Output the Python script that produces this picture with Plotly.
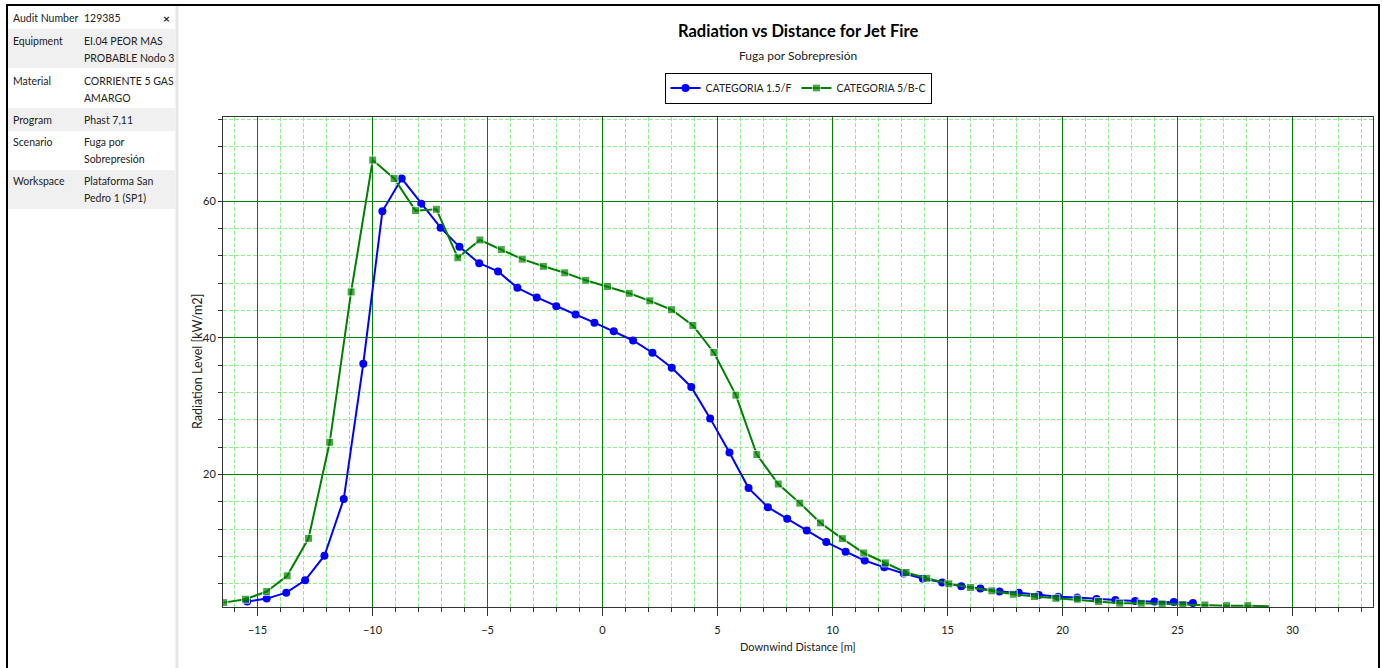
import plotly.graph_objects as go

# ---------------- data ----------------
cat_f_x = [-15.45, -14.6, -13.75, -12.93, -12.09, -11.25, -10.4, -9.57, -8.73, -7.88,
           -7.04, -6.22, -5.36, -4.54, -3.7, -2.86, -2.01, -1.17, -0.35, 0.49,
           1.33, 2.17, 3.01, 3.86, 4.68, 5.52, 6.35, 7.19, 8.03, 8.88,
           9.73, 10.57, 11.4, 12.25, 13.1, 13.93, 14.77, 15.6, 16.43, 17.26,
           18.1, 18.97, 19.81, 20.64, 21.48, 22.3, 23.16, 24.0, 24.84, 25.67]
cat_f_y = [1.39, 1.83, 2.7, 4.5, 8.1, 16.4, 36.2, 58.5, 63.3, 59.6,
           56.1, 53.3, 50.9, 49.7, 47.3, 45.9, 44.6, 43.4, 42.2, 40.96,
           39.6, 37.8, 35.6, 32.8, 28.2, 23.2, 18.0, 15.2, 13.5, 11.8,
           10.1, 8.7, 7.4, 6.4, 5.5, 4.75, 4.2, 3.65, 3.3, 2.86,
           2.67, 2.37, 2.1, 1.98, 1.78, 1.64, 1.49, 1.39, 1.34, 1.2]

cat_bc_x = [-16.47, -15.52, -14.6, -13.71, -12.78, -11.86, -10.93, -9.99, -9.06, -8.13,
            -7.22, -6.29, -5.33, -4.4, -3.49, -2.57, -1.64, -0.73, 0.22, 1.16,
            2.06, 3.0, 3.93, 4.84, 5.8, 6.71, 7.64, 8.58, 9.48, 10.43,
            11.36, 12.3, 13.2, 14.1, 15.06, 16.0, 16.93, 17.86, 18.78, 19.71,
            20.64, 21.57, 22.49, 23.42, 24.33, 25.23, 26.19, 27.13, 28.06, 28.97]
cat_bc_y = [1.24, 1.74, 2.86, 5.16, 10.65, 24.7, 46.7, 66.0, 63.3, 58.6,
            58.8, 51.7, 54.3, 52.9, 51.5, 50.45, 49.5, 48.4, 47.5, 46.5,
            45.4, 44.1, 41.8, 37.85, 31.6, 22.9, 18.6, 15.8, 12.9, 10.6,
            8.5, 7.05, 5.65, 4.8, 3.99, 3.45, 2.96, 2.47, 2.13, 1.88,
            1.74, 1.39, 1.15, 1.15, 1.05, 0.95, 0.9, 0.8, 0.8, 0.72]

series_names = ["CATEGORIA 1.5/F", "CATEGORIA 5/B-C"]

info_labels = ["Audit Number", "Equipment", "Material", "Program", "Scenario", "Workspace"]
info_values = [["129385"], ["EI.04 PEOR MAS", "PROBABLE Nodo 3"], ["CORRIENTE 5 GAS", "AMARGO"],
               ["Phast 7,11"], ["Fuga por", "Sobrepresión"], ["Plataforma San", "Pedro 1 (SP1)"]]

title_text = "Radiation vs Distance for Jet Fire"
subtitle_text = "Fuga por Sobrepresión"
x_title = "Downwind Distance [m]"
y_title = "Radiation Level [kW/m2]"

# ---------------- layout geometry ----------------
W, H = 1382, 668
PL, PR, PT, PB = 223, 1373, 117, 607
FONT = "Lato, Roboto, sans-serif"


def px(x):
    return (x - PL) / (PR - PL)


def py(y):
    return (PB - y) / (PB - PT)


fig = go.Figure()
fig.add_trace(go.Scatter(x=cat_f_x, y=cat_f_y, mode="lines+markers", name=series_names[0],
                         line=dict(color="#0000FF", width=2),
                         marker=dict(symbol="circle", size=8, color="#0000FF")))
marker_sizes = [8] * (len(cat_bc_x) - 1) + [0]
fig.add_trace(go.Scatter(x=cat_bc_x, y=cat_bc_y, mode="lines+markers", name=series_names[1],
                         line=dict(color="#008000", width=2),
                         marker=dict(symbol="square", size=marker_sizes, color="#008000")))

shapes = []
# outer black frame
shapes.append(dict(type="rect", xref="paper", yref="paper",
                   x0=px(7), x1=px(1379), y0=py(680), y1=py(5),
                   line=dict(color="black", width=2), fillcolor="rgba(0,0,0,0)", layer="below"))
# divider
shapes.append(dict(type="line", xref="paper", yref="paper",
                   x0=px(177), x1=px(177), y0=py(668), y1=py(6),
                   line=dict(color="#e6e6e6", width=3)))
# shaded rows
for (y0, y1) in [(29, 68), (108, 131), (170, 209)]:
    shapes.append(dict(type="rect", xref="paper", yref="paper",
                       x0=px(8), x1=px(175), y0=py(y1), y1=py(y0),
                       line=dict(width=0), fillcolor="#f0f0f0", layer="below"))

annotations = []
row_centers = [18, 41, 81, 120, 142, 181]
PANEL_FS = 10.5
for lab, vals, yc in zip(info_labels, info_values, row_centers):
    annotations.append(dict(xref="paper", yref="paper", x=px(11), y=py(yc), xanchor="left",
                            yanchor="middle", text=lab, showarrow=False,
                            font=dict(family=FONT, size=PANEL_FS, color="#222")))
    for i, v in enumerate(vals):
        annotations.append(dict(xref="paper", yref="paper", x=px(82), y=py(yc + 17 * i),
                                xanchor="left", yanchor="middle", text=v, showarrow=False,
                                font=dict(family=FONT, size=PANEL_FS, color="#222")))
annotations.append(dict(xref="paper", yref="paper", x=px(166), y=py(18), xanchor="center",
                        yanchor="middle", text="<b>×</b>", showarrow=False,
                        font=dict(family=FONT, size=12, color="#222")))

annotations.append(dict(xref="paper", yref="paper", x=0.5, y=py(31), xanchor="center",
                        yanchor="middle", text="<b>" + title_text + "</b>", showarrow=False,
                        font=dict(family=FONT, size=16.5, color="black")))
annotations.append(dict(xref="paper", yref="paper", x=0.5, y=py(55), xanchor="center",
                        yanchor="middle", text=subtitle_text, showarrow=False,
                        font=dict(family=FONT, size=12, color="#222")))
annotations.append(dict(xref="paper", yref="paper", x=0.5, y=py(646), xanchor="center",
                        yanchor="middle", text=x_title, showarrow=False,
                        font=dict(family=FONT, size=11, color="#222")))
annotations.append(dict(xref="paper", yref="paper", x=px(197), y=0.5, xanchor="center",
                        yanchor="middle", text=y_title, showarrow=False, textangle=-90,
                        font=dict(family=FONT, size=12.5, color="#222")))

fig.update_layout(
    width=W, height=H,
    margin=dict(l=PL, r=W - PR, t=PT, b=H - PB),
    paper_bgcolor="white", plot_bgcolor="white",
    font=dict(family=FONT, size=11, color="#222"),
    shapes=shapes, annotations=annotations,
    showlegend=True,
    legend=dict(orientation="h", x=0.5, xanchor="center", y=py(88), yanchor="middle",
                bordercolor="black", borderwidth=1, bgcolor="white",
                font=dict(family=FONT, size=10.5, color="#222"), itemwidth=30),
)
fig.update_xaxes(range=[-16.5, 33.5], tick0=0, dtick=5, showgrid=True,
                 gridcolor="#008000", gridwidth=1, zeroline=False,
                 ticks="outside", ticklen=8, tickcolor="#333", ticklabelstandoff=5,
                 showline=True, linecolor="#333", linewidth=1, mirror=True,
                 tickfont=dict(family=FONT, size=11, color="#222"),
                 minor=dict(dtick=1, tick0=0, showgrid=True, gridcolor="#90EE90",
                            griddash="4px,2px", gridwidth=1, ticks="outside", ticklen=4,
                            tickcolor="#333"))
fig.update_yaxes(range=[0.6, 72.3], tick0=0, dtick=20, showgrid=True,
                 gridcolor="#008000", gridwidth=1, zeroline=False,
                 ticks="outside", ticklen=4, tickcolor="#333",
                 showline=True, linecolor="#333", linewidth=1, mirror=True,
                 tickfont=dict(family=FONT, size=11, color="#222"),
                 minor=dict(dtick=4, tick0=0, showgrid=True, gridcolor="#90EE90",
                            griddash="4px,2px", gridwidth=1, ticks="outside", ticklen=4,
                            tickcolor="#333"))

fig.write_html("out.html")
